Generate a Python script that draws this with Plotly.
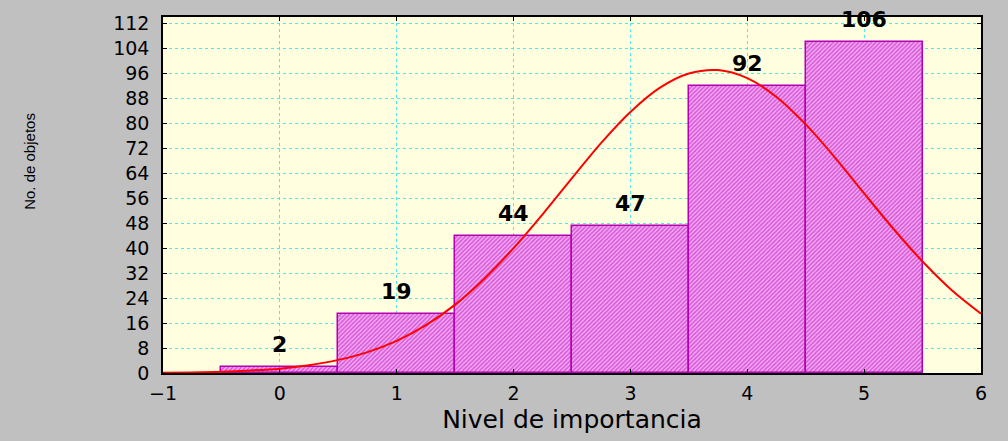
"""Histogram of importance levels with fitted normal curve."""

import plotly.graph_objects as go

# Bars: importance level and number of objects
levels = [0, 1, 2, 3, 4, 5]
counts = [2, 19, 44, 47, 92, 106]

# Fitted normal curve
curve_x = [-1, -0.75, -0.5, -0.25, 0, 0.25, 0.5, 0.75, 1, 1.25, 1.5, 1.75,
           2, 2.25, 2.5, 2.75, 3, 3.25, 3.5, 3.75, 4, 4.25, 4.5, 4.75,
           5, 5.25, 5.5, 5.75, 6]
curve_y = [0.1, 0.2, 0.4, 0.8, 1.4, 2.5, 4.2, 6.7, 10.3, 15.3, 21.9, 30.2,
           40.0, 50.9, 62.4, 73.7, 83.6, 91.3, 95.9, 97.0, 94.4, 88.4, 79.6, 69.0,
           57.5, 46.2, 35.7, 26.5, 19.0]

y_ticks = list(range(0, 113, 8))
x_ticks = list(range(-1, 7))

fig = go.Figure()

fig.add_trace(go.Bar(
    x=levels,
    y=counts,
    width=1,
    marker=dict(
        color="#E890E8",
        line=dict(color="#B400B4", width=1.5),
        pattern=dict(shape="/", size=3, solidity=0.6,
                     fgcolor="#C000C0", bgcolor="#F4B8F4"),
    ),
    showlegend=False,
))

fig.add_trace(go.Scatter(
    x=curve_x,
    y=curve_y,
    mode="lines",
    line=dict(color="#FF0000", width=2, shape="spline"),
    showlegend=False,
))

# Count labels above each bar
for lv, c in zip(levels, counts):
    fig.add_annotation(
        x=lv, y=c, text=str(c), showarrow=False,
        yanchor="bottom", yshift=8,
        font=dict(family="DejaVu Sans", size=22, color="black", weight="bold"),
    )

# Y axis title, placed where the original has it
fig.add_annotation(
    xref="paper", yref="paper", x=-0.163, y=0.595, xanchor="center",
    text="No. de objetos", textangle=-90, showarrow=False,
    font=dict(family="Liberation Sans", size=15, color="black"),
)

axis_common = dict(
    showline=True,
    linecolor="black",
    linewidth=1.5,
    mirror="ticks",
    ticks="inside",
    ticklen=4,
    tickcolor="black",
    showgrid=True,
    gridcolor="#50EAEA",
    griddash="dot",
    gridwidth=1,
    zeroline=False,
    tickfont=dict(family="DejaVu Sans", size=19, color="black"),
)

fig.update_xaxes(
    range=[-1, 6],
    tickvals=x_ticks,
    ticktext=["\u22121"] + [str(v) for v in x_ticks[1:]],
    ticklabelstandoff=2,
    title=dict(text="Nivel de importancia",
               font=dict(family="DejaVu Sans", size=25, color="black"),
               standoff=8),
    **axis_common,
)
fig.update_yaxes(
    range=[0, 114],
    tickvals=y_ticks,
    ticklabelstandoff=8,
    **axis_common,
)

fig.update_layout(
    width=1008,
    height=441,
    paper_bgcolor="#C0C0C0",
    plot_bgcolor="#FFFFE0",
    bargap=0,
    margin=dict(l=163, r=27, t=15, b=67),
)

fig.write_html("out.html", config={"displayModeBar": False},
               post_script="document.body.style.margin = '0';")
